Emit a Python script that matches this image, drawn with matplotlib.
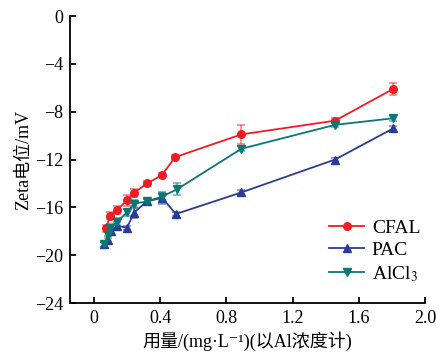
import numpy as np
import matplotlib
matplotlib.use('Agg')
import matplotlib.pyplot as plt

plt.rcParams['font.family'] = ['Liberation Serif', 'Noto Sans CJK SC', 'DejaVu Sans']
plt.rcParams['mathtext.fontset'] = 'stix'
plt.rcParams['axes.unicode_minus'] = True

# data
x_cfal = [0.072, 0.097, 0.14, 0.20, 0.24, 0.32, 0.41, 0.49, 0.89, 1.456, 1.807]
y_cfal = [-17.75, -16.7, -16.2, -15.4, -14.8, -14.0, -13.3, -11.8, -9.9, -8.75, -6.1]
e_cfal = [0.3, 0.3, 0.35, 0.45, 0.3, 0.2, 0.2, 0.15, 0.8, 0.2, 0.5]

x_pac = [0.06, 0.085, 0.10, 0.14, 0.20, 0.24, 0.32, 0.41, 0.495, 0.89, 1.456, 1.807]
y_pac = [-19.1, -18.7, -18.0, -17.55, -17.7, -16.45, -15.5, -15.2, -16.55, -14.75, -12.0, -9.4]
e_pac = [0.2, 0.3, 0.3, 0.3, 0.15, 0.4, 0.2, 0.5, 0.2, 0.2, 0.15, 0.2]

x_alc = [0.06, 0.085, 0.097, 0.14, 0.20, 0.24, 0.32, 0.41, 0.50, 0.89, 1.456, 1.807]
y_alc = [-19.1, -18.3, -17.7, -17.2, -16.4, -15.7, -15.5, -15.1, -14.5, -11.1, -9.1, -8.55]
e_alc = [0.2, 0.3, 0.3, 0.3, 0.3, 0.3, 0.2, 0.3, 0.5, 0.2, 0.2, 0.2]

c_red = '#ee1d25'
c_blue = '#2d3b98'
c_teal = '#0b7873'


def main():
    fig = plt.figure(figsize=(4.36, 3.52), dpi=100)
    ax = fig.add_axes([0.1606, 0.139, 0.8144, 0.8155])

    series = [(x_cfal, y_cfal, e_cfal, c_red, 'o', 'CFAL'),
              (x_pac, y_pac, e_pac, c_blue, '^', 'PAC'),
              (x_alc, y_alc, e_alc, c_teal, 'v', 'AlCl$_3$')]
    for x, y, e, c, m, lab in series:
        ax.errorbar(x, y, yerr=e, fmt='none', ecolor=c, alpha=0.55,
                    elinewidth=1.2, capsize=3, capthick=1.2, zorder=2)
        ax.plot(x, y, color=c, marker=m, markersize=5.5, lw=1.3,
                label=lab, zorder=3)

    ax.set_xlim(-0.145, 2.0)
    ax.set_ylim(-24, 0)
    ax.set_xticks([0, 0.4, 0.8, 1.2, 1.6, 2.0])
    ax.set_xticklabels(['0', '0.4', '0.8', '1.2', '1.6', '2.0'])
    ax.set_yticks([0, -4, -8, -12, -16, -20, -24])
    ax.set_yticklabels(['0', '\u22124', '\u22128', '\u221212', '\u221216', '\u221220', '\u221224'])

    for s in ['top', 'right']:
        ax.spines[s].set_visible(False)
    for s in ['left', 'bottom']:
        ax.spines[s].set_linewidth(1.3)
    ax.tick_params(direction='in', length=4, width=1.3, labelsize=13, pad=5)

    ax.set_xlabel('用量/(mg·L⁻¹)(以Al浓度计)', fontsize=13, labelpad=3)
    ax.set_ylabel('Zeta电位/mV', fontsize=13, labelpad=2)

    ax.legend(loc='lower right', bbox_to_anchor=(1.025, 0.02), frameon=False,
              fontsize=14, handlelength=1.8, handletextpad=0.4,
              labelspacing=0.25, borderaxespad=0.3)

    plt.savefig('out.png', dpi=100)


if __name__ == "__main__":
    main()
